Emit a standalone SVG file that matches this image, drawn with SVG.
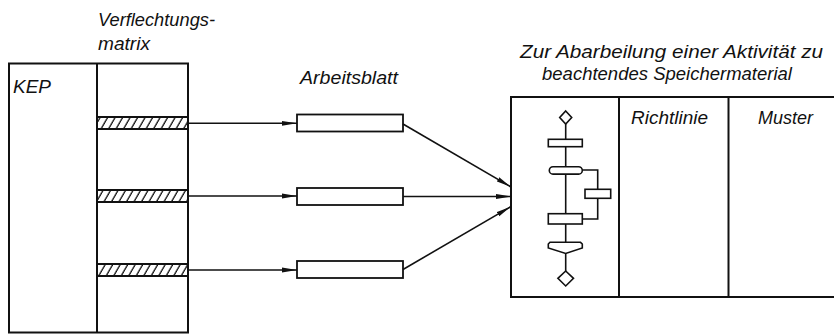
<svg xmlns="http://www.w3.org/2000/svg" width="834" height="334" viewBox="0 0 834 334">
<style>
.t{font-family:"Liberation Sans",Arial,sans-serif;font-style:italic;font-size:19px;fill:#111}
.box{fill:none;stroke:#111;stroke-width:2}
.ln{fill:none;stroke:#111;stroke-width:1.6}
.fc{fill:#fff;stroke:#111;stroke-width:1.6}
.ab{fill:#fff;stroke:#111;stroke-width:1.8}
</style>
<defs>
<marker id="ah" markerWidth="16" markerHeight="6" refX="15" refY="3" orient="auto" markerUnits="userSpaceOnUse">
<path d="M0,0.6 L15,3 L0,5.4 z" fill="#111"/>
</marker>
<pattern id="hatch" width="7.5" height="12" patternUnits="userSpaceOnUse" patternTransform="skewX(-30)">
<rect width="7.5" height="12" fill="#fff"/>
<line x1="3" y1="0" x2="3" y2="12" stroke="#111" stroke-width="1.5"/>
</pattern>
</defs>
<rect width="834" height="334" fill="#fff"/>

<g id="kep">
<rect class="box" x="9" y="63.5" width="179" height="269"/>
<text class="t" x="13" y="93" textLength="38" lengthAdjust="spacingAndGlyphs">KEP</text>
</g>

<g id="verflechtungsmatrix">
<line class="box" x1="97" y1="63.5" x2="97" y2="332.5"/>
<text class="t" x="98" y="26" textLength="117" lengthAdjust="spacingAndGlyphs">Verflechtungs-</text>
<text class="t" x="98" y="50" textLength="52" lengthAdjust="spacingAndGlyphs">matrix</text>
<rect x="97" y="117" width="91" height="12" fill="url(#hatch)" stroke="#111" stroke-width="2"/>
<rect x="97" y="190" width="91" height="12" fill="url(#hatch)" stroke="#111" stroke-width="2"/>
<rect x="97" y="264" width="91" height="12" fill="url(#hatch)" stroke="#111" stroke-width="2"/>
</g>

<g id="arbeitsblatt">
<text class="t" x="300" y="83.5" textLength="98" lengthAdjust="spacingAndGlyphs">Arbeitsblatt</text>
<rect class="ab" x="297" y="114.5" width="106" height="17"/>
<rect class="ab" x="297" y="188" width="106" height="17"/>
<rect class="ab" x="297" y="261" width="106" height="17"/>
</g>

<g id="speichermaterial">
<text class="t" x="520" y="58" textLength="303" lengthAdjust="spacingAndGlyphs">Zur Abarbeilung einer Aktivität zu</text>
<text class="t" x="542" y="80" textLength="250" lengthAdjust="spacingAndGlyphs">beachtendes Speichermaterial</text>
<path class="box" d="M836,97 H511 V297 H836"/>
<line class="box" x1="619" y1="97" x2="619" y2="297"/>
<line class="box" x1="728.5" y1="97" x2="728.5" y2="297"/>
<text class="t" x="631" y="124" textLength="77" lengthAdjust="spacingAndGlyphs">Richtlinie</text>
<text class="t" x="758" y="123.5" textLength="55" lengthAdjust="spacingAndGlyphs">Muster</text>
</g>

<g id="ablaufplan">
<line class="ln" x1="565.7" y1="124" x2="565.7" y2="271"/>
<path class="ln" d="M582,170 H597.7 V219 H582"/>
<polygon class="fc" points="565.7,111 571.7,117.5 565.7,124 559.7,117.5"/>
<rect class="fc" x="548.3" y="139.3" width="34" height="7.4"/>
<rect class="fc" x="549.3" y="166.7" width="33" height="7.4" rx="3.7"/>
<rect class="fc" x="585" y="189.3" width="25.7" height="9"/>
<rect class="fc" x="548.3" y="213.7" width="34" height="10.3"/>
<polygon class="fc" points="550,242.3 580.5,242.3 582.3,244 582.3,248 565.7,253.5 548.3,248 548.3,244"/>
<polygon class="fc" points="565.7,271 573.5,278.3 565.7,286 557.9,278.3"/>
</g>

<g id="connectors">
<line class="ln" x1="188" y1="123.3" x2="297" y2="123.3" marker-end="url(#ah)"/>
<line class="ln" x1="188" y1="196" x2="297" y2="196" marker-end="url(#ah)"/>
<line class="ln" x1="188" y1="270" x2="297" y2="270" marker-end="url(#ah)"/>
<line class="ln" x1="403" y1="124" x2="511" y2="187" marker-end="url(#ah)"/>
<line class="ln" x1="403" y1="196.5" x2="511" y2="196.5" marker-end="url(#ah)"/>
<line class="ln" x1="403" y1="269.5" x2="511" y2="206.5" marker-end="url(#ah)"/>
</g>
</svg>
